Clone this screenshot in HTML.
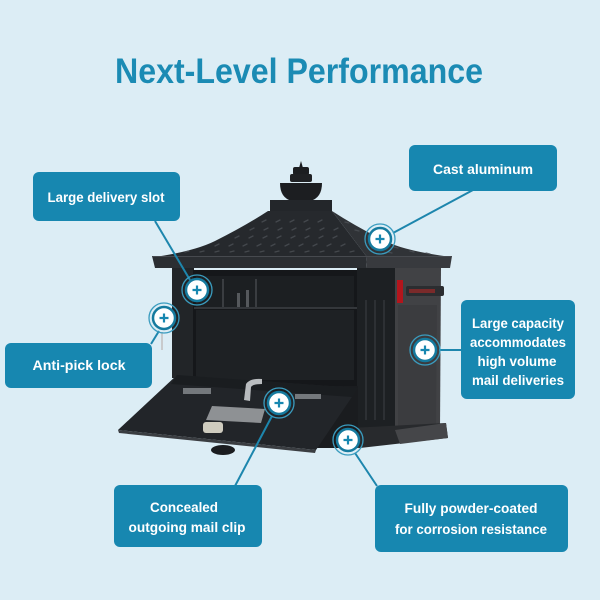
<!DOCTYPE html>
<html>
<head>
<meta charset="utf-8">
<style>
html,body{margin:0;padding:0;background:#dcedf5;}
svg{display:block;}
text{font-family:"Liberation Sans",sans-serif;font-weight:bold;}
</style>
</head>
<body>
<svg width="600" height="600" viewBox="0 0 600 600" xmlns="http://www.w3.org/2000/svg">
  <rect x="0" y="0" width="600" height="600" fill="#dcedf5"/>

  <!-- Title -->
  <text x="299" y="83" font-size="35" fill="#1b8bb4" text-anchor="middle" textLength="368" lengthAdjust="spacingAndGlyphs">Next-Level Performance</text>

  <!-- ===== Mailbox ===== -->
  <!-- finial -->
  <path d="M301,161 L303,168 L299,168 Z" fill="#1a1c1f"/>
  <rect x="293" y="167" width="16" height="8" rx="2" fill="#1c1e21"/>
  <rect x="290" y="174" width="22" height="8" rx="2" fill="#1f2124"/>
  <path d="M280,183 L322,183 Q322,198 310,201 L292,201 Q280,198 280,183 Z" fill="#1c1e21"/>
  <rect x="270" y="200" width="62" height="11" fill="#23262a"/>

  <!-- roof -->
  <path d="M155,257 Q195,251 215,241 Q245,226 268,211 L332,211 Q348,232 367,257 Z" fill="#26292d"/>
  <path d="M332,211 Q355,226 385,241 Q405,251 451,257 L367,257 Q348,232 332,211 Z" fill="#303337"/>
  <!-- roof perforations -->
  <g stroke="#4c5056" stroke-width="1.3" stroke-linecap="round" opacity="0.8">
    <path d="M262,222 l4,-2 M276,222 l4,-2 M290,222 l4,-2 M304,222 l4,-2 M318,222 l4,-2"/>
    <path d="M250,230 l4,-2 M264,230 l4,-2 M278,230 l4,-2 M292,230 l4,-2 M306,230 l4,-2 M320,230 l4,-2 M334,230 l4,-2"/>
    <path d="M235,238 l4,-2 M249,238 l4,-2 M263,238 l4,-2 M277,238 l4,-2 M291,238 l4,-2 M305,238 l4,-2 M319,238 l4,-2 M333,238 l4,-2"/>
    <path d="M215,246 l4,-2 M229,246 l4,-2 M243,246 l4,-2 M257,246 l4,-2 M271,246 l4,-2 M285,246 l4,-2 M299,246 l4,-2 M313,246 l4,-2 M327,246 l4,-2 M341,246 l4,-2"/>
    <path d="M185,252 l4,-1 M200,252 l4,-1 M215,252 l4,-1 M230,252 l4,-1 M245,252 l4,-1 M260,252 l4,-1 M275,252 l4,-1 M290,252 l4,-1 M305,252 l4,-1 M320,252 l4,-1 M335,252 l4,-1 M350,252 l4,-1"/>
    <path d="M345,222 l4,1 M355,230 l4,1 M368,236 l4,1 M380,242 l4,1 M394,247 l4,1 M410,251 l4,1 M426,253 l4,1 M372,248 l4,1 M388,252 l4,1"/>
  </g>
  <!-- eave -->
  <path d="M152,256 L367,256 L366,268 L155,268 Z" fill="#2b2e32"/>
  <path d="M367,256 L452,256 L450,268 L366,268 Z" fill="#383a3e"/>
  <line x1="153" y1="256.5" x2="451" y2="256.5" stroke="#474a4f" stroke-width="1"/>

  <!-- body left wall -->
  <rect x="172" y="268" width="22" height="110" fill="#222528"/>
  <!-- interior -->
  <rect x="193" y="270" width="165" height="116" fill="#15171a"/>
  <rect x="196" y="276" width="158" height="31" fill="#1c1f22"/>
  <line x1="194" y1="308" x2="357" y2="308" stroke="#34373b" stroke-width="2"/>
  <rect x="196" y="310" width="158" height="70" fill="#1e2124"/>
  <!-- slot dividers -->
  <rect x="222" y="279" width="2" height="28" fill="#3a3d41"/>
  <rect x="255" y="279" width="2" height="28" fill="#3a3d41"/>
  <rect x="237" y="293" width="3" height="14" fill="#55585c"/>
  <rect x="246" y="290" width="3" height="17" fill="#55585c"/>
  <!-- right pillar -->
  <rect x="357" y="268" width="39" height="170" fill="#1d2023"/>
  <g stroke="#33363a" stroke-width="1.5">
    <line x1="366" y1="300" x2="366" y2="420"/>
    <line x1="375" y1="300" x2="375" y2="420"/>
    <line x1="384" y1="300" x2="384" y2="420"/>
  </g>
  <!-- side panel -->
  <path d="M395,268 L441,268 L440,430 L395,432 Z" fill="#414245"/>
  <path d="M398,305 L437,305 L436,425 L398,427 Z" fill="#3b3c3f"/>
  <!-- flag -->
  <rect x="397" y="280" width="6" height="23" fill="#b3151c"/>
  <rect x="406" y="286" width="38" height="10" rx="2" fill="#2b2d30"/>
  <rect x="409" y="289" width="26" height="4" fill="#7a2a2a"/>
  <!-- plinth -->
  <path d="M350,428 L446,423 L448,438 L360,448 L345,447 Z" fill="#282a2d"/>
  <path d="M395,430 L446,423 L448,438 L400,444 Z" fill="#454649"/>
  <!-- lower body front -->
  <rect x="300" y="386" width="58" height="62" fill="#1a1c1f"/>
  <!-- foot -->
  <ellipse cx="223" cy="450" rx="12" ry="5" fill="#1b1d20"/>

  <!-- door flap -->
  <path d="M177,375 L358,388 L316,450 L118,430 Z" fill="#222529"/>
  <path d="M177,375 L358,388 L352,397 L171,384 Z" fill="#1a1d20"/>
  <path d="M118,430 L316,450 L315,453 L119,433 Z" fill="#3a3d41"/>
  <!-- door lettering -->
  <g fill="#8a8d91" opacity="0.8">
    <rect x="183" y="388" width="28" height="6"/>
    <rect x="295" y="394" width="26" height="5"/>
  </g>
  <!-- handle -->
  <path d="M244,400 L246,384 Q250,378 262,379 L262,384 Q253,384 251,387 L250,401 Z" fill="#b9bcbf"/>
  <!-- plate -->
  <path d="M212,406 L265,409 L261,423 L206,420 Z" fill="#8e9194"/>
  <!-- lock -->
  <rect x="203" y="422" width="20" height="11" rx="3" fill="#cfccbf"/>
  <!-- key near anti-pick -->
  <rect x="161" y="332" width="2" height="18" fill="#c8cacc"/>

  <!-- ===== Connectors ===== -->
  <g stroke="#1d86ad" stroke-width="2" fill="none">
    <line x1="473" y1="190" x2="393" y2="233"/>
    <line x1="155" y1="221" x2="190" y2="280"/>
    <line x1="159" y1="331" x2="151" y2="344"/>
    <line x1="439" y1="350" x2="462" y2="350"/>
    <line x1="272" y1="416" x2="235" y2="486"/>
    <line x1="355" y1="453" x2="377" y2="486"/>
  </g>

  <!-- ===== Boxes ===== -->
  <g fill="#1787b0">
    <rect x="409" y="145" width="148" height="46" rx="6"/>
    <rect x="33" y="172" width="147" height="49" rx="6"/>
    <rect x="5" y="343" width="147" height="45" rx="6"/>
    <rect x="461" y="300" width="114" height="99" rx="6"/>
    <rect x="114" y="485" width="148" height="62" rx="6"/>
    <rect x="375" y="485" width="193" height="67" rx="6"/>
  </g>
  <g fill="#ffffff" font-size="14" text-anchor="middle">
    <text x="483" y="174" textLength="100" lengthAdjust="spacingAndGlyphs">Cast aluminum</text>
    <text x="106" y="202" textLength="117" lengthAdjust="spacingAndGlyphs">Large delivery slot</text>
    <text x="79" y="370" textLength="93" lengthAdjust="spacingAndGlyphs">Anti-pick lock</text>
    <text x="518" y="328" textLength="92" lengthAdjust="spacingAndGlyphs">Large capacity</text>
    <text x="518" y="347" textLength="96" lengthAdjust="spacingAndGlyphs">accommodates</text>
    <text x="517" y="366" textLength="79" lengthAdjust="spacingAndGlyphs">high volume</text>
    <text x="518" y="385" textLength="92" lengthAdjust="spacingAndGlyphs">mail deliveries</text>
    <text x="184" y="512" textLength="68" lengthAdjust="spacingAndGlyphs">Concealed</text>
    <text x="187" y="532" textLength="117" lengthAdjust="spacingAndGlyphs">outgoing mail clip</text>
    <text x="471" y="513" textLength="133" lengthAdjust="spacingAndGlyphs">Fully powder-coated</text>
    <text x="471" y="534" textLength="152" lengthAdjust="spacingAndGlyphs">for corrosion resistance</text>
  </g>

  <!-- ===== Markers ===== -->
  <defs>
    <g id="mk">
      <circle r="15" fill="none" stroke="#3a9cbf" stroke-width="1.3"/>
      <circle r="11" fill="#ffffff" stroke="#157a9e" stroke-width="2.5"/>
      <path d="M-4.5,0 H4.5 M0,-4.5 V4.5" stroke="#1787b0" stroke-width="2.2"/>
    </g>
  </defs>
  <use href="#mk" x="380" y="239"/>
  <use href="#mk" x="197" y="290"/>
  <use href="#mk" x="164" y="318"/>
  <use href="#mk" x="425" y="350"/>
  <use href="#mk" x="279" y="403"/>
  <use href="#mk" x="348" y="440"/>
</svg>
</body>
</html>
